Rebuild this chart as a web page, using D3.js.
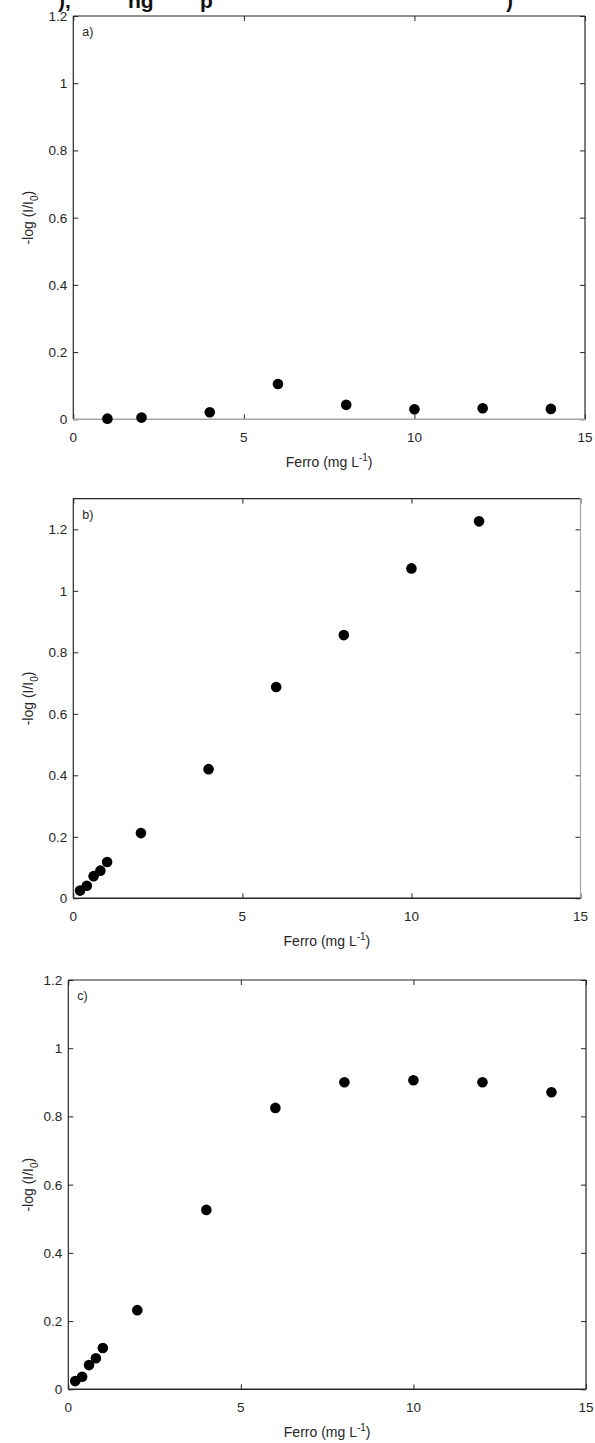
<!DOCTYPE html>
<html>
<head>
<meta charset="utf-8">
<script src="https://cdn.jsdelivr.net/npm/d3@7"></script>
<style>
  html, body { margin: 0; padding: 0; background: #fff; }
  svg { display: block; font-family: "Liberation Sans", Arial, sans-serif; }
</style>
</head>
<body>
<svg id="fig" width="595" height="1443"></svg>
<script>
// Iron concentration (mg/L) and absorbance -log(I/I0) for three conditions
const ferroA = [1, 2, 4, 6, 8, 10, 12, 14];
const absA   = [0.002, 0.005, 0.021, 0.105, 0.043, 0.030, 0.033, 0.031];

const ferroB = [0.2, 0.4, 0.6, 0.8, 1, 2, 4, 6, 8, 10, 12];
const absB   = [0.025, 0.041, 0.072, 0.090, 0.118, 0.212, 0.420, 0.687, 0.856, 1.073, 1.226];

const ferroC = [0.2, 0.4, 0.6, 0.8, 1, 2, 4, 6, 8, 10, 12, 14];
const absC   = [0.024, 0.037, 0.071, 0.091, 0.121, 0.232, 0.526, 0.825, 0.900, 0.906, 0.900, 0.871];

const xTicks = [0, 5, 10, 15];
const yTicks = [0, 0.2, 0.4, 0.6, 0.8, 1, 1.2];
const panelLetters = ["a)", "b)", "c)"];

const svg = d3.select("#fig");
const ink = "#262626";

// Cropped heading line above the first panel
svg.append("text")
  .attr("y", 8)
  .attr("font-weight", "bold")
  .attr("font-size", 21)
  .attr("fill", "#111")
  .call(t => {
    t.append("tspan").attr("x", 58).text("),");
    t.append("tspan").attr("x", 128).text("ng");
    t.append("tspan").attr("x", 200).text("p");
    t.append("tspan").attr("x", 506).text(")");
  });

function drawPanel(opt) {
  const { xs, ys, left, right, top, bottom, yMax, letter, bottomColor, rightColor } = opt;
  const x = d3.scaleLinear().domain([0, 15]).range([left, right]);
  const y = d3.scaleLinear().domain([0, yMax]).range([bottom, top]);
  const g = svg.append("g");
  const tk = 5;

  // inward ticks on all four sides
  const axBottom = g.append("g").attr("transform", `translate(0,${bottom})`)
    .call(d3.axisTop(x).tickValues(xTicks).tickSize(tk).tickFormat(""));
  const axTop = g.append("g").attr("transform", `translate(0,${top})`)
    .call(d3.axisBottom(x).tickValues(xTicks).tickSize(tk).tickFormat(""));
  const axLeft = g.append("g").attr("transform", `translate(${left},0)`)
    .call(d3.axisRight(y).tickValues(yTicks).tickSize(tk).tickFormat(""));
  const axRight = g.append("g").attr("transform", `translate(${right},0)`)
    .call(d3.axisLeft(y).tickValues(yTicks).tickSize(tk).tickFormat(""));
  [axBottom, axTop, axLeft, axRight].forEach(a => {
    a.select(".domain").remove();
    a.selectAll("line").attr("stroke", ink).attr("stroke-width", 1);
  });

  // box
  g.append("line").attr("x1", left).attr("x2", right).attr("y1", top).attr("y2", top)
    .attr("stroke", ink).attr("stroke-width", 1.2);
  g.append("line").attr("x1", left).attr("x2", left).attr("y1", top).attr("y2", bottom)
    .attr("stroke", ink).attr("stroke-width", 1.2);
  g.append("line").attr("x1", right).attr("x2", right).attr("y1", top).attr("y2", bottom)
    .attr("stroke", rightColor).attr("stroke-width", 1.2);
  g.append("line").attr("x1", left).attr("x2", right).attr("y1", bottom).attr("y2", bottom)
    .attr("stroke", bottomColor).attr("stroke-width", 1.4);

  // tick labels
  g.selectAll(".xl").data(xTicks).join("text")
    .attr("x", d => x(d)).attr("y", bottom + 23)
    .attr("text-anchor", "middle").attr("font-size", 13.5).attr("fill", ink)
    .text(d => d);
  g.selectAll(".yl").data(yTicks.filter(v => v <= yMax)).join("text")
    .attr("x", left - 6).attr("y", d => y(d) + 5)
    .attr("text-anchor", "end").attr("font-size", 13.5).attr("fill", ink)
    .text(d => d3.format("~g")(d));

  // axis titles
  g.append("text")
    .attr("x", (left + right) / 2).attr("y", bottom + 48)
    .attr("text-anchor", "middle").attr("font-size", 14).attr("fill", ink)
    .call(t => {
      t.append("tspan").text("Ferro (mg L");
      t.append("tspan").attr("dy", -6).attr("font-size", 10).text("-1");
      t.append("tspan").attr("dy", 6).text(")");
    });
  g.append("text")
    .attr("transform", `translate(33,${(top + bottom) / 2}) rotate(-90)`)
    .attr("text-anchor", "middle").attr("font-size", 14).attr("fill", ink)
    .call(t => {
      t.append("tspan").text("-log (I/I");
      t.append("tspan").attr("dy", 5).attr("font-size", 10).text("0");
      t.append("tspan").attr("dy", -5).text(")");
    });

  // panel letter
  g.append("text").attr("x", left + 9).attr("y", top + 20)
    .attr("font-size", 12.5).attr("fill", ink).text(letter);

  // markers
  g.selectAll("circle").data(xs.map((v, i) => [v, ys[i]])).join("circle")
    .attr("cx", d => x(d[0])).attr("cy", d => y(d[1]))
    .attr("r", 5.3).attr("fill", "#000");
}

drawPanel({ xs: ferroA, ys: absA, left: 73.3, right: 585, top: 16, bottom: 419.3,
  yMax: 1.2, letter: panelLetters[0], bottomColor: "#a6a6a6", rightColor: ink });
drawPanel({ xs: ferroB, ys: absB, left: 73.3, right: 580.5, top: 498.6, bottom: 898.3,
  yMax: 1.3, letter: panelLetters[1], bottomColor: ink, rightColor: "#a6a6a6" });
drawPanel({ xs: ferroC, ys: absC, left: 68.3, right: 586, top: 980, bottom: 1389.3,
  yMax: 1.2, letter: panelLetters[2], bottomColor: ink, rightColor: ink });
</script>
</body>
</html>
